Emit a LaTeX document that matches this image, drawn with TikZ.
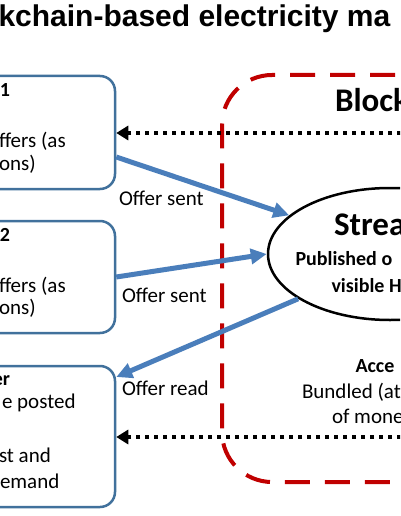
\documentclass[tikz,border=0pt]{standalone}
\usepackage{fontspec}
\setmainfont{Carlito}
\newfontfamily\titlefont{Liberation Sans}
\usetikzlibrary{arrows.meta,shapes.geometric}
\definecolor{boxblue}{RGB}{65,113,156}
\definecolor{arrblue}{RGB}{74,126,187}
\definecolor{chainred}{RGB}{192,0,0}
\tikzset{
  pbox/.style={draw=boxblue, line width=2.5pt, rounded corners=15pt, minimum width=145pt, inner sep=0pt},
  txt/.style={inner sep=0pt, outer sep=0pt, font=\fontsize{21}{25}\selectfont},
  btxt/.style={inner sep=0pt, outer sep=0pt, font=\fontsize{20}{24}\selectfont\bfseries},
  bigtxt/.style={inner sep=0pt, outer sep=0pt, font=\fontsize{33}{38}\selectfont\bfseries},
  titletxt/.style={inner sep=0pt, outer sep=0pt, font=\titlefont\fontsize{30}{36}\selectfont\bfseries},
  flow/.style={draw=arrblue, line width=5pt, -{Triangle[length=16pt,width=15pt]}},
  feed/.style={draw=black, line width=4pt, dash pattern=on 4pt off 5pt, -{Triangle[length=12pt,width=14pt]}},
  chain/.style={draw=chainred, line width=4pt, dash pattern=on 25pt off 15pt, rounded corners=50pt},
}
\begin{document}
\begin{tikzpicture}[x=1pt,y=-1pt]
\useasboundingbox (0,0) rectangle (400,516);
\clip (0,0) rectangle (400,516);

% blockchain region
\draw[chain] (435,75) -- (222,75) -- (222,482) -- (435,482);

% title
\node[titletxt, anchor=base west] (title) at (-1.5,27) {kchain-based electricity ma};

% boxes
\node[pbox, minimum height=113pt] (p1) at (42.5,132.5) {};
\node[pbox, minimum height=112pt] (p2) at (42.5,277) {};
\node[pbox, minimum height=141pt] (p3) at (42.5,436.5) {};

% stream ellipse
\node[draw, ellipse, line width=2.5pt, minimum width=244pt, minimum height=132pt, inner sep=0pt] (stream) at (390,254) {};

% flows
\draw[flow] ([yshift=-24.5pt]p1.east) -- (stream.159);
\draw[flow] (p2.east) -- (stream.west);
\draw[flow] (stream.206) -- ([yshift=59.5pt]p3.east);

% feedback dotted arrows
\coordinate (f1) at (410,133);
\coordinate (f2) at (410,437);
\draw[feed] (f1) -- (p1.east |- f1);
\draw[feed] (f2) -- (p3.east |- f2);

% box texts
\node[btxt, anchor=base east] (p1a) at (10,96) {1};
\node[txt, anchor=base west] (p1b) at (-1,147) {ffers (as};
\node[txt, anchor=base west] (p1c) at (-1,170) {ons)};
\node[btxt, anchor=base east] (p2a) at (10,241) {2};
\node[txt, anchor=base west] (p2b) at (-1,292) {ffers (as};
\node[txt, anchor=base west] (p2c) at (-1,314) {ons)};
\node[btxt, anchor=base east] (p3a) at (10,385) {er};
\node[txt, anchor=base west] (p3b) at (2,408) {e posted};
\node[txt, anchor=base west] (p3c) at (-1,462) {st and};
\node[txt, anchor=base west] (p3d) at (0,488) {emand};

% connector labels
\node[txt, anchor=base west] (l1) at (119,205) {Offer sent};
\node[txt, anchor=base west] (l2) at (122,302) {Offer sent};
\node[txt, anchor=base west] (l3) at (122,395) {Offer read};

% stream texts
\node[bigtxt, anchor=base west] (s1) at (334,235) {Strea};
\node[btxt, anchor=base west] (s2) at (295.5,265) {Published o};
\node[btxt, anchor=base west] (s3) at (331.5,292) {visible H};

% blockchain texts
\node[bigtxt, anchor=base west] (c1) at (335,112) {Block};
\node[btxt, anchor=base west] (c2) at (355.5,372) {Acce};
\node[txt, anchor=base west] (c3) at (302,398) {Bundled (at};
\node[txt, anchor=base west] (c4) at (332,423) {of mone};
\end{tikzpicture}
\end{document}
